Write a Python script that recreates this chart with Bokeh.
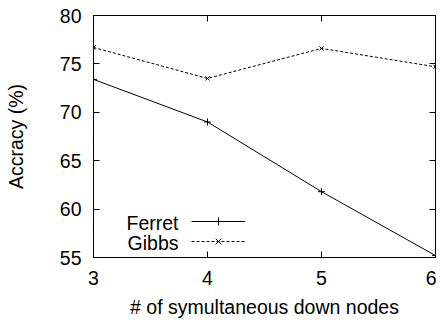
from bokeh.plotting import figure
from bokeh.models import Range1d, LinearAxis, FixedTicker, Legend, LegendItem, Label
from bokeh.core.properties import value
from bokeh.embed import file_html
from bokeh.resources import INLINE

nodes = [3, 4, 5, 6]
ferret = [73.4, 69.0, 61.8, 55.2]
gibbs = [76.7, 73.5, 76.6, 74.7]
x_ticks = [3, 4, 5, 6]
y_ticks = [55, 60, 65, 70, 75, 80]
series_names = ["Ferret", "Gibbs"]

FONT = "Liberation Sans"
FS = "19.5px"

p = figure(width=436, height=320, output_backend="svg", toolbar_location=None,
           x_range=Range1d(3, 6), y_range=Range1d(55, 80),
           min_border_left=93, min_border_right=1, min_border_top=15, min_border_bottom=63,
           x_axis_label="# of symultaneous down nodes", y_axis_label="Accracy (%)")
p.xgrid.visible = False
p.ygrid.visible = False
p.outline_line_color = "black"
p.outline_line_width = 1
p.background_fill_color = "white"
p.border_fill_color = "white"

p.xaxis.ticker = FixedTicker(ticks=x_ticks)
p.yaxis.ticker = FixedTicker(ticks=y_ticks)
for ax in (p.xaxis[0], p.yaxis[0]):
    ax.major_tick_in = 6
    ax.major_tick_out = 0
    ax.minor_tick_in = 0
    ax.minor_tick_out = 0
    ax.axis_line_color = "black"
    ax.major_tick_line_color = "black"
    ax.major_label_text_font = FONT
    ax.major_label_text_font_size = FS
    ax.major_label_text_color = "black"
    ax.axis_label_text_font = FONT
    ax.axis_label_text_font_size = FS
    ax.axis_label_text_font_style = "normal"
    ax.axis_label_text_color = "black"
p.xaxis.major_label_standoff = 13
p.xaxis.axis_label_standoff = 8
p.yaxis.major_label_standoff = 12
p.yaxis.axis_label_standoff = 30

# mirror ticks
for loc, ticks in (("right", y_ticks), ("above", x_ticks)):
    ax = LinearAxis(ticker=FixedTicker(ticks=ticks))
    ax.major_tick_in = 6
    ax.major_tick_out = 0
    ax.minor_tick_in = 0
    ax.minor_tick_out = 0
    ax.major_label_text_font_size = "0px"
    ax.major_label_standoff = 0
    ax.major_label_overrides = {t: "" for t in ticks}
    ax.axis_line_color = "black"
    ax.major_tick_line_color = "black"
    p.add_layout(ax, loc)

r1 = p.line(nodes, ferret, line_color="black", line_width=1)
s1 = p.scatter(nodes, ferret, marker="cross", size=7, line_color="black", line_width=1)
r2 = p.line(nodes, gibbs, line_color="black", line_width=1, line_dash="3 2")
s2 = p.scatter(nodes, gibbs, marker="x", size=6, line_color="black", line_width=1)

legend = Legend(items=[LegendItem(label=value(" "), renderers=[r1, s1]),
                       LegendItem(label=value(" "), renderers=[r2, s2])],
                location=(98, 6), glyph_width=54, glyph_height=20,
                label_width=0, label_standoff=0, label_height=20,
                padding=0, margin=0, spacing=0,
                border_line_color=None, background_fill_alpha=0)
legend.label_text_font_size = "1px"
p.add_layout(legend, "center")

p.add_layout(Label(x=85, y=35, x_units="screen", y_units="screen", text=series_names[0],
                   text_align="right", text_baseline="middle", text_font=FONT,
                   text_font_size=FS, text_color="black"))
p.add_layout(Label(x=85, y=15, x_units="screen", y_units="screen", text=series_names[1],
                   text_align="right", text_baseline="middle", text_font=FONT,
                   text_font_size=FS, text_color="black"))

open("out.html", "w").write(file_html(p, INLINE))
